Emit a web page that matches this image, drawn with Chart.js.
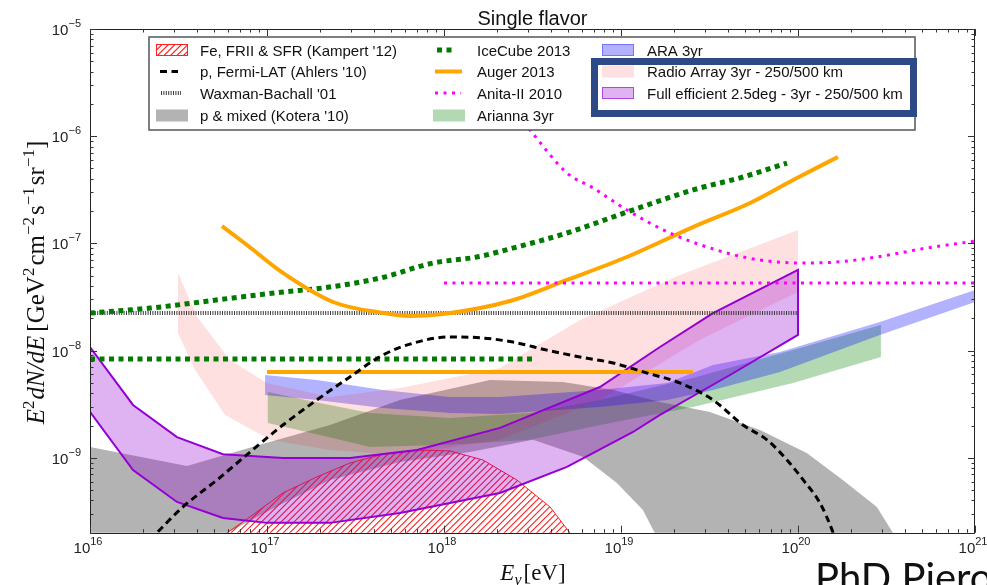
<!DOCTYPE html>
<html>
<head>
<meta charset="utf-8">
<title>Single flavor</title>
<script src="https://cdn.jsdelivr.net/npm/chart.js@4.4.1/dist/chart.umd.min.js"></script>
<style>
  html, body { margin: 0; padding: 0; background: #fff; overflow: hidden; }
  #wrap { position: relative; width: 987px; height: 585px; overflow: hidden; }
  #c { position: absolute; left: 0; top: 0; }
  #sig { position: absolute; left: 815px; top: 557px; font: 40px Lato, "Open Sans", sans-serif; line-height: 1; white-space: nowrap; color: #111; }
</style>
</head>
<body>
<div id="wrap">
  <canvas id="c" width="987" height="585"></canvas>
  <div id="sig">PhD Piero</div>
</div>
<script>
// Energies in eV, fluxes E^2 dN/dE in GeV cm^-2 s^-1 sr^-1.

// axis ticks (decade exponents)
const xTickExps = [16, 17, 18, 19, 20, 21];
const yTickExps = [-5, -6, -7, -8, -9];

// Fe, FRII & SFR (Kampert '12) - hatched band, upper edge and floor
const kampertHiE = [4.76e16, 5.94e16, 8.02e16, 1.23e17, 1.91e17, 2.94e17, 4.52e17, 7.03e17, 1.08e18, 1.66e18, 2.58e18, 3.97e18, 5.15e18, 5.6e18];
const kampertHiF = [1.2e-10, 1.99e-10, 2.81e-10, 4.70e-10, 6.62e-10, 8.93e-10, 1.08e-9, 1.18e-9, 1.16e-9, 9.53e-10, 6.21e-10, 3.48e-10, 1.99e-10, 1.2e-10];
const kampertLoE = [4.76e16, 5.6e18];
const kampertLoF = [1e-10, 1e-10];

// p, Fermi-LAT (Ahlers '10)
const ahlersE = [2.18e16, 3.35e16, 5.22e16, 8.02e16, 1.23e17, 1.91e17, 2.94e17, 4.52e17, 7.03e17, 1.08e18, 1.66e18, 2.45e18, 3.82e18, 5.86e18, 9.02e18, 1.40e19, 2.15e19, 3.31e19, 4.89e19, 6.68e19, 8.67e19, 1.07e20, 1.33e20, 1.58e20, 1.66e20];
const ahlersF = [1.71e-10, 3.48e-10, 6.21e-10, 1.13e-9, 2.02e-9, 3.46e-9, 5.68e-9, 9.10e-9, 1.20e-8, 1.34e-8, 1.31e-8, 1.20e-8, 1.01e-8, 8.71e-9, 7.66e-9, 6.18e-9, 4.99e-9, 3.46e-9, 2.02e-9, 1.47e-9, 9.53e-10, 6.21e-10, 3.79e-10, 1.99e-10, 1.54e-10];

// Waxman-Bachall '01
const wbE = [1e16, 1e20];
const wbF = [2.24e-8, 2.24e-8];

// p & mixed (Kotera '10)
const koteraHiE = [1e16, 3.53e16, 9.12e16, 2.27e17, 5.64e17, 1.82e18, 4.70e18, 9.02e18, 1.66e19, 3.18e19, 6.10e19, 1.12e20, 1.79e20, 2.79e20, 3.44e20, 3.8e20];
const koteraHiF = [1.26e-9, 8.39e-10, 1.32e-9, 2.02e-9, 3.46e-9, 5.32e-9, 5.09e-9, 4.29e-9, 3.32e-9, 2.68e-9, 1.82e-9, 1.11e-9, 6.21e-10, 3.48e-10, 1.99e-10, 1.5e-10];
const koteraLoE = [1e16, 4.5e16, 5.94e16, 1.18e17, 2.27e17, 5.64e17, 1.40e18, 3.18e18, 6.10e18, 9.48e18, 1.33e19, 1.66e19, 3.8e20];
const koteraLoF = [1e-10, 1e-10, 1.99e-10, 3.63e-10, 6.21e-10, 9.14e-10, 1.13e-9, 1.47e-9, 1.02e-9, 5.82e-10, 3.26e-10, 1.6e-10, 1e-10];

// IceCube 2013 (differential and integral)
const icecubeE = [1e16, 2.18e16, 6.43e16, 1.23e17, 2.07e17, 4.35e17, 8.67e17, 1.53e18, 2.58e18, 4.95e18, 1.08e19, 2.55e19, 4.89e19, 8.67e19];
const icecubeF = [2.24e-8, 2.49e-8, 3.10e-8, 3.52e-8, 3.84e-8, 4.75e-8, 6.56e-8, 7.46e-8, 9.25e-8, 1.25e-7, 1.96e-7, 3.15e-7, 4.16e-7, 5.62e-7];
const icecubeIntE = [1e16, 3.18e18];
const icecubeIntF = [8.36e-9, 8.36e-9];

// Auger 2013 (differential and integral)
const augerE = [5.57e16, 7.71e16, 1.23e17, 2.36e17, 4.52e17, 6.43e17, 9.86e17, 2.36e18, 4.95e18, 1.08e19, 2.55e19, 5.36e19, 9.38e19, 1.68e20];
const augerF = [1.45e-7, 9.66e-8, 5.30e-8, 2.84e-8, 2.24e-8, 2.10e-8, 2.19e-8, 2.90e-8, 4.56e-8, 7.46e-8, 1.42e-7, 2.38e-7, 3.90e-7, 6.40e-7];
const augerIntE = [1e17, 2.55e19];
const augerIntF = [6.31e-9, 6.31e-9];

// Anita-II 2010 (differential and integral)
const anitaE = [1.60e18, 3.06e18, 4.95e18, 6.95e18, 1.08e19, 1.89e19, 3.97e19, 6.10e19, 1.03e20, 1.66e20, 2.79e20, 5.36e20, 1e21];
const anitaF = [4.15e-6, 1.14e-6, 4.54e-7, 3.29e-7, 2.05e-7, 1.25e-7, 8.13e-8, 7.00e-8, 6.56e-8, 6.70e-8, 7.46e-8, 9.06e-8, 1.05e-7];
const anitaIntE = [1e18, 1e21];
const anitaIntF = [4.28e-8, 4.28e-8];

// Arianna 3yr
const ariannaE = [1.01e17, 1.99e17, 3.82e17, 1.08e18, 3.06e18, 7.60e18, 2.55e19, 9.38e19, 2.94e20];
const ariannaHiF = [4.11e-9, 3.24e-9, 2.62e-9, 2.35e-9, 2.62e-9, 3.46e-9, 5.55e-9, 1.01e-8, 1.73e-8];
const ariannaLoF = [2.11e-9, 1.63e-9, 1.26e-9, 1.32e-9, 1.47e-9, 2.02e-9, 2.98e-9, 4.99e-9, 8.71e-9];

// ARA 3yr
const araE = [9.75e16, 1.91e17, 4.52e17, 1.08e18, 2.07e18, 7.60e18, 1.82e19, 3.31e19, 7.91e19, 2.90e20, 1e21];
const araHiF = [5.92e-9, 5.32e-9, 4.29e-9, 3.69e-9, 3.69e-9, 4.29e-9, 4.99e-9, 7.34e-9, 9.70e-9, 1.85e-8, 3.67e-8];
const araLoF = [3.85e-9, 3.46e-9, 2.92e-9, 2.62e-9, 2.56e-9, 2.98e-9, 3.46e-9, 4.29e-9, 6.31e-9, 1.40e-8, 2.84e-8];

// Radio Array 3yr - 250/500 km
const radioHiE = [3.14e16, 4.03e16, 6.18e16, 1e17, 2.27e17, 5.64e17, 2.07e18, 5.86e18, 2.15e19, 1e20];
const radioHiF = [5.30e-8, 2.06e-8, 8.17e-9, 4.99e-9, 3.69e-9, 4.48e-9, 6.89e-9, 1.93e-8, 5.07e-8, 1.33e-7];
const radioLoE = [3.14e16, 3.92e16, 5.79e16, 1.04e17, 2.27e17, 5.64e17, 2.07e18, 7.60e18, 2.79e19, 1e20];
const radioLoF = [1.46e-8, 6.59e-9, 2.51e-9, 1.47e-9, 1.18e-9, 1.06e-9, 1.47e-9, 3.46e-9, 1.26e-8, 3.52e-8];

// Full efficient 2.5deg - 3yr - 250/500 km
const fullHiE = [1e16, 1.75e16, 3.10e16, 5.64e16, 1.23e17, 2.94e17, 7.03e17, 2.07e18, 7.60e18, 1.66e19, 3.31e19, 1e20];
const fullHiF = [1.08e-8, 3.11e-9, 1.56e-9, 1.08e-9, 9.96e-10, 9.96e-10, 1.18e-9, 1.90e-9, 4.57e-9, 1.08e-8, 2.24e-8, 5.65e-8];
const fullLoE = [1e16, 1.75e16, 3.10e16, 5.64e16, 1e17, 2.27e17, 5.64e17, 2.07e18, 4.95e18, 1.17e19, 1.66e19, 4.13e19, 1e20];
const fullLoF = [2.68e-9, 7.69e-10, 3.87e-10, 2.74e-10, 2.47e-10, 2.47e-10, 3.05e-10, 4.70e-10, 8.21e-10, 1.74e-9, 2.51e-9, 5.92e-9, 1.40e-8];

// ---- styles ----
const C = {
  kampert: '#ff2020',
  ahlers: '#000000',
  wb: '#3a3a3a',
  kotera: 'rgba(128,128,128,0.6)',
  icecube: '#007a00',
  auger: '#ffa500',
  anita: '#ff00ff',
  arianna: 'rgba(0,128,0,0.3)',
  ara: 'rgba(0,0,255,0.3)',
  radio: 'rgba(255,0,0,0.12)',
  full: 'rgba(148,0,211,0.3)',
  fullEdge: '#9400d3'
};
const DASH = {
  ahlers: [7, 4.5],
  wb: [1, 1.4],
  icecube: [5, 4.5],
  anita: [3, 5.5]
};
const HATCH_LABEL = "Fe, FRII & SFR (Kampert '12)";

function pts(E, F) { return E.map((e, i) => ({ x: e, y: F[i] })); }
function ring(hiE, hiF, loE, loF) {
  const p = pts(hiE, hiF).concat(pts(loE, loF).reverse());
  p.push(p[0]);
  return p;
}
function band(label, data, fillColor, edgeColor, edgeWidth, order) {
  return { label, data, fill: fillColor ? 'shape' : false, backgroundColor: fillColor || 'rgba(0,0,0,0)',
           borderColor: edgeColor || 'rgba(0,0,0,0)', borderWidth: edgeWidth || 0,
           pointRadius: 0, order };
}
function curve(label, data, color, width, dash, order, smooth) {
  return { label, data, fill: false, borderColor: color, borderWidth: width,
           borderDash: dash || [], borderCapStyle: 'butt', borderJoinStyle: 'round',
           cubicInterpolationMode: smooth ? 'monotone' : 'default',
           pointRadius: 0, order };
}

const datasets = [
  band("p & mixed (Kotera '10)", ring(koteraHiE, koteraHiF, koteraLoE, koteraLoF), C.kotera, null, 0, 20),
  band(HATCH_LABEL, ring(kampertHiE, kampertHiF, kampertLoE, kampertLoF), null, C.kampert, 1, 19),
  band('Arianna 3yr', ring(ariannaE, ariannaHiF, ariannaE, ariannaLoF), C.arianna, null, 0, 18),
  band('ARA 3yr', ring(araE, araHiF, araE, araLoF), C.ara, null, 0, 17),
  band('Radio Array 3yr - 250/500 km', ring(radioHiE, radioHiF, radioLoE, radioLoF), C.radio, null, 0, 16),
  band('Full efficient 2.5deg - 3yr - 250/500 km', ring(fullHiE, fullHiF, fullLoE, fullLoF), C.full, C.fullEdge, 2, 15),
  curve("Waxman-Bachall '01", pts(wbE, wbF), C.wb, 4, DASH.wb, 10),
  curve('IceCube 2013', pts(icecubeE, icecubeF), C.icecube, 5, DASH.icecube, 9, true),
  curve('IceCube 2013 (int.)', pts(icecubeIntE, icecubeIntF), C.icecube, 5, DASH.icecube, 9),
  curve('Auger 2013', pts(augerE, augerF), C.auger, 4, null, 8, true),
  curve('Auger 2013 (int.)', pts(augerIntE, augerIntF), C.auger, 4, null, 8),
  curve('Anita-II 2010', pts(anitaE, anitaF), C.anita, 3, DASH.anita, 7, true),
  curve('Anita-II 2010 (int.)', pts(anitaIntE, anitaIntF), C.anita, 3, DASH.anita, 7),
  curve("p, Fermi-LAT (Ahlers '10)", pts(ahlersE, ahlersF), C.ahlers, 3, DASH.ahlers, 6, true)
];

// ---- drawing helpers ----
const SANS = '"Liberation Sans", Arial, Helvetica, sans-serif';
const SERIF = '"Liberation Serif", "Times New Roman", serif';

function seg(ctx, x1, y1, x2, y2) {
  ctx.beginPath(); ctx.moveTo(x1, y1); ctx.lineTo(x2, y2); ctx.stroke();
}

// "////" hatching inside the current clip region
function hatchLines(ctx, x0, y0, x1, y1, step, color) {
  ctx.strokeStyle = color;
  ctx.lineWidth = 1.1;
  ctx.setLineDash([]);
  ctx.beginPath();
  const h = y1 - y0;
  for (let s = x0 - h; s <= x1 + step; s += step) {
    ctx.moveTo(s, y1);
    ctx.lineTo(s + h, y0);
  }
  ctx.stroke();
}

function powLabel(ctx, exp, x, y, align) {
  const es = exp < 0 ? '\u2212' + (-exp) : String(exp);
  ctx.font = '15px ' + SANS;
  const wb = ctx.measureText('10').width;
  ctx.font = '11px ' + SANS;
  const we = ctx.measureText(es).width;
  const left = align === 'center' ? x - (wb + we) / 2 : x - (wb + we);
  ctx.font = '15px ' + SANS;
  ctx.fillText('10', left, y);
  ctx.font = '11px ' + SANS;
  ctx.fillText(es, left + wb, y - 8);
}

function runsWidth(ctx, runs) {
  let w = 0;
  for (const r of runs) { ctx.font = r.f; w += ctx.measureText(r.t).width + (r.sp || 0); }
  return w;
}
function drawRuns(ctx, runs, x0, y0) {
  let x = x0;
  for (const r of runs) {
    ctx.font = r.f;
    ctx.fillText(r.t, x, y0 + (r.dy || 0));
    x += ctx.measureText(r.t).width + (r.sp || 0);
  }
}

function swatchRect(ctx, x, cy, fill, edge) {
  if (fill) { ctx.fillStyle = fill; ctx.fillRect(x, cy - 6, 32, 12); }
  if (edge) { ctx.strokeStyle = edge; ctx.lineWidth = 1; ctx.strokeRect(x + 0.5, cy - 5.5, 31, 11); }
}
function swatchLine(ctx, x1, x2, cy, color, width, dash) {
  ctx.save();
  ctx.strokeStyle = color; ctx.lineWidth = width; ctx.lineCap = 'butt';
  ctx.setLineDash(dash || []);
  seg(ctx, x1, cy, x2, cy);
  ctx.restore();
}

function drawLegend(ctx) {
  const bx = 149, by = 37, bw = 766, bh = 93;
  ctx.fillStyle = '#fff';
  ctx.fillRect(bx, by, bw, bh);
  ctx.strokeStyle = '#555'; ctx.lineWidth = 1.5;
  ctx.strokeRect(bx, by, bw, bh);
  const rows = [50, 71.5, 93, 115.5];
  // column 1
  ctx.save();
  ctx.beginPath(); ctx.rect(156, rows[0] - 6, 32, 12); ctx.clip();
  hatchLines(ctx, 156, rows[0] - 6, 188, rows[0] + 6, 6.5, C.kampert);
  ctx.restore();
  swatchRect(ctx, 156, rows[0], null, C.kampert);
  swatchLine(ctx, 160, 178, rows[1], C.ahlers, 3, DASH.ahlers);
  swatchLine(ctx, 161, 181, rows[2], C.wb, 4, DASH.wb);
  swatchRect(ctx, 156, rows[3], C.kotera);
  // column 2
  swatchLine(ctx, 437, 452, rows[0], C.icecube, 5, DASH.icecube);
  swatchLine(ctx, 435, 462, rows[1], C.auger, 4);
  swatchLine(ctx, 435, 461, rows[2], C.anita, 3, DASH.anita);
  swatchRect(ctx, 433, rows[3], C.arianna);
  // column 3
  swatchRect(ctx, 602, rows[0], C.ara, 'rgba(0,0,255,0.35)');
  swatchRect(ctx, 602, rows[1], C.radio);
  swatchRect(ctx, 602, rows[2], C.full, 'rgba(148,0,211,0.6)');

  ctx.fillStyle = '#111';
  ctx.font = '15px ' + SANS;
  const col1 = [HATCH_LABEL, "p, Fermi-LAT (Ahlers '10)", "Waxman-Bachall '01", "p & mixed (Kotera '10)"];
  const col2 = ['IceCube 2013', 'Auger 2013', 'Anita-II 2010', 'Arianna 3yr'];
  const col3 = ['ARA 3yr', 'Radio Array 3yr - 250/500 km', 'Full efficient 2.5deg - 3yr - 250/500 km'];
  col1.forEach((t, i) => ctx.fillText(t, 200, rows[i] + 5.5));
  col2.forEach((t, i) => ctx.fillText(t, 477, rows[i] + 5.5));
  col3.forEach((t, i) => ctx.fillText(t, 647, rows[i] + 5.5));

  // highlight frame around the two radio entries
  ctx.strokeStyle = '#2d4a87'; ctx.lineWidth = 7;
  ctx.strokeRect(594.5, 61.5, 319, 52);
}

const decor = {
  id: 'decor',
  // hatching of the Kampert band, clipped to the band outline
  beforeDatasetDraw(chart, args) {
    const ds = chart.data.datasets[args.index];
    if (ds.label !== HATCH_LABEL) return;
    const { ctx, chartArea: a } = chart;
    const p = args.meta.data;
    ctx.save();
    ctx.beginPath(); ctx.rect(a.left, a.top, a.right - a.left, a.bottom - a.top); ctx.clip();
    ctx.beginPath();
    p.forEach((pt, i) => (i ? ctx.lineTo(pt.x, pt.y) : ctx.moveTo(pt.x, pt.y)));
    ctx.closePath();
    ctx.clip();
    let minX = Infinity, maxX = -Infinity, minY = Infinity, maxY = -Infinity;
    p.forEach(pt => { minX = Math.min(minX, pt.x); maxX = Math.max(maxX, pt.x); minY = Math.min(minY, pt.y); maxY = Math.max(maxY, pt.y); });
    hatchLines(ctx, minX, Math.max(minY, a.top), maxX, Math.min(maxY, a.bottom) + 6, 6.5, C.kampert);
    ctx.restore();
  },
  afterDraw(chart) {
    const { ctx, chartArea: a, scales: { x, y } } = chart;
    ctx.save();
    ctx.textBaseline = 'alphabetic';
    ctx.textAlign = 'left';

    // frame
    ctx.strokeStyle = '#222'; ctx.lineWidth = 1;
    ctx.strokeRect(Math.round(a.left) + 0.5, Math.round(a.top) + 0.5,
                   Math.round(a.right - a.left) - 1, Math.round(a.bottom - a.top));

    // inward ticks on all four sides
    ctx.strokeStyle = '#333';
    for (let d = 16; d <= 21; d++) {
      for (let k = 1; k <= 9; k++) {
        const v = k * Math.pow(10, d);
        if (v > 1.0001e21) break;
        const px = Math.round(x.getPixelForValue(v)) + 0.5;
        const len = k === 1 ? 7 : 3.5;
        seg(ctx, px, a.bottom, px, a.bottom - len);
        seg(ctx, px, a.top, px, a.top + len);
      }
    }
    for (let d = -10; d <= -5; d++) {
      for (let k = 1; k <= 9; k++) {
        const v = k * Math.pow(10, d);
        if (v < 1.999e-10 || v > 1.0001e-5) continue;
        const py = Math.round(y.getPixelForValue(v)) + 0.5;
        const len = k === 1 ? 7 : 3.5;
        seg(ctx, a.left, py, a.left + len, py);
        seg(ctx, a.right, py, a.right - len, py);
      }
    }

    // tick labels
    ctx.fillStyle = '#222';
    xTickExps.forEach(e => powLabel(ctx, e, x.getPixelForValue(Math.pow(10, e)) - 2, 553, 'center'));
    yTickExps.forEach(e => powLabel(ctx, e, a.left - 9, y.getPixelForValue(Math.pow(10, e)) + 6, 'right'));

    // title
    ctx.fillStyle = '#111';
    ctx.font = '20px ' + SANS;
    ctx.textAlign = 'center';
    ctx.fillText('Single flavor', 532.5, 25);
    ctx.textAlign = 'left';

    // x axis title: E_nu [eV]
    const it = 'italic 23px ' + SERIF, rm = '23px ' + SERIF, sub = 'italic 16px ' + SERIF;
    const xRuns = [
      { t: 'E', f: it },
      { t: '\u03bd', f: sub, dy: 5, sp: 2 },
      { t: '[eV]', f: rm }
    ];
    drawRuns(ctx, xRuns, 533 - runsWidth(ctx, xRuns) / 2, 580);

    // y axis title: E^2 dN/dE [GeV^2 cm^-2 s^-1 sr^-1]
    const yit = 'italic 25px ' + SERIF, yrm = '25px ' + SERIF, sup = '17px ' + SERIF;
    const yRuns = [
      { t: 'E', f: yit },
      { t: '2', f: sup, dy: -10, sp: 1 },
      { t: 'dN/dE', f: yit, sp: 4 },
      { t: '[GeV', f: yrm },
      { t: '2', f: sup, dy: -10, sp: 2 },
      { t: 'cm', f: yrm },
      { t: '\u22122', f: sup, dy: -10, sp: 2 },
      { t: 's', f: yrm },
      { t: '\u22121', f: sup, dy: -10, sp: 2 },
      { t: 'sr', f: yrm },
      { t: '\u22121', f: sup, dy: -10 },
      { t: ']', f: yrm }
    ];
    ctx.save();
    ctx.translate(44, 282.5);
    ctx.rotate(-Math.PI / 2);
    drawRuns(ctx, yRuns, -runsWidth(ctx, yRuns) / 2, 0);
    ctx.restore();

    drawLegend(ctx);
    ctx.restore();
  }
};

new Chart(document.getElementById('c'), {
  type: 'line',
  data: { datasets },
  options: {
    responsive: false,
    animation: false,
    devicePixelRatio: 1,
    events: [],
    layout: { padding: { left: 90, right: 12, top: 29, bottom: 52.3 } },
    scales: {
      x: { type: 'logarithmic', min: 1e16, max: 1e21, display: false },
      y: { type: 'logarithmic', min: 2e-10, max: 1e-5, display: false }
    },
    elements: { line: { tension: 0 }, point: { radius: 0 } },
    plugins: {
      legend: { display: false },
      tooltip: { enabled: false },
      title: { display: false }
    }
  },
  plugins: [decor]
});
</script>
</body>
</html>
